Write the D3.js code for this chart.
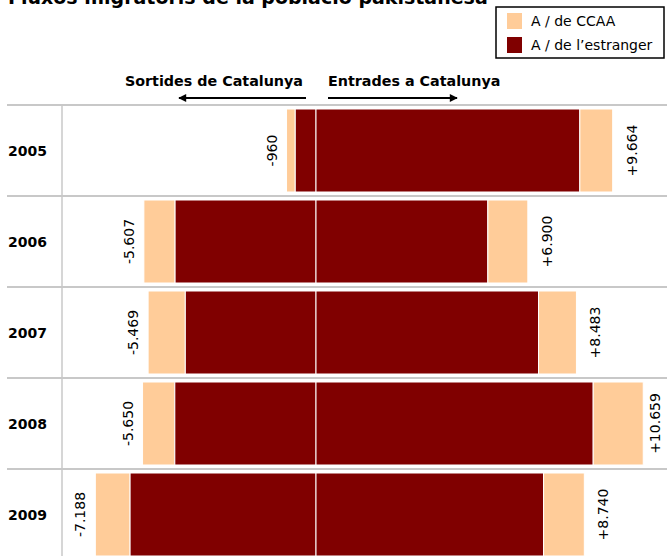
<!DOCTYPE html>
<html><head><meta charset="utf-8">
<script src="https://cdn.jsdelivr.net/npm/d3@7/dist/d3.min.js"></script>
<style>body{margin:0;background:#fff}svg{display:block}text{font-family:"DejaVu Sans",Verdana,sans-serif}</style>
</head><body><svg id="c" width="667" height="556"></svg>
<script>
const years = ["2005","2006","2007","2008","2009"];
const outCCAA = [284, 1017, 1212, 1051, 1132];
const outForeign = [676, 4590, 4257, 4599, 6056];
const inForeign = [8594, 5598, 7248, 9029, 7413];
const inCCAA = [1070, 1302, 1235, 1630, 1327];
const seriesNames = ["A / de CCAA", "A / de l\u2019estranger"];
const colors = ["#ffcc99", "#800000"];
const title = "Fluxos migratoris de la població pakistanesa";
const headLeft = "Sortides de Catalunya", headRight = "Entrades a Catalunya";

const svg = d3.select("#c");
const loc = d3.formatLocale({decimal: ",", thousands: ".", grouping: [3], currency: ["", "€"]});
const fmt = loc.format(",d");

const x = d3.scaleLinear().domain([-5000, 5000]).range([162.5, 469.5]);
const y = d3.scaleBand().domain(years).range([105, 560]).paddingInner(0).paddingOuter(0);
const inset = 4;

// title (partially clipped at top)
svg.append("text").attr("x", 8).attr("y", 4).attr("font-weight", "bold").attr("font-size", 19).text(title);

// legend
const lg = svg.append("g");
lg.append("rect").attr("x", 496).attr("y", 7).attr("width", 168).attr("height", 51).attr("fill", "#fff").attr("stroke", "#000").attr("stroke-width", 1.5);
seriesNames.forEach((n, i) => {
  lg.append("rect").attr("x", 507).attr("y", 13 + i * 24).attr("width", 15).attr("height", 16).attr("fill", colors[i]);
  lg.append("text").attr("x", 531).attr("y", 26 + i * 24).attr("font-size", 14).text(n);
});

// headers with arrows
svg.append("defs").append("marker").attr("id", "ah").attr("viewBox", "0 0 10 10").attr("refX", 9).attr("refY", 5)
  .attr("markerWidth", 5).attr("markerHeight", 4).attr("markerUnits", "strokeWidth").attr("orient", "auto")
  .append("path").attr("d", "M0,0 L10,5 L0,10 Z").attr("fill", "#000");
svg.append("text").attr("x", 303).attr("y", 86).attr("text-anchor", "end").attr("font-weight", "bold").attr("font-size", 14.3).text(headLeft);
svg.append("text").attr("x", 328).attr("y", 86).attr("text-anchor", "start").attr("font-weight", "bold").attr("font-size", 14.3).text(headRight);
svg.append("line").attr("x1", 306).attr("x2", 179).attr("y1", 98).attr("y2", 98).attr("stroke", "#000").attr("stroke-width", 2).attr("marker-end", "url(#ah)");
svg.append("line").attr("x1", 328).attr("x2", 457).attr("y1", 98).attr("y2", 98).attr("stroke", "#000").attr("stroke-width", 2).attr("marker-end", "url(#ah)");

// grid
years.forEach(yr => {
  svg.append("line").attr("x1", 7).attr("x2", 667).attr("y1", y(yr)).attr("y2", y(yr)).attr("stroke", "#c8c8c8").attr("stroke-width", 2);
});
svg.append("line").attr("x1", 62).attr("x2", 62).attr("y1", 106).attr("y2", 556).attr("stroke", "#c8c8c8").attr("stroke-width", 1.5);

// bars
const rows = years.map((yr, i) => ({yr, oc: outCCAA[i], of: outForeign[i], inf: inForeign[i], ic: inCCAA[i]}));
const g = svg.append("g");
rows.forEach(d => {
  const y0 = y(d.yr) + inset, h = y.bandwidth() - inset * 2;
  const segs = [
    [-(d.oc + d.of), -d.of, colors[0]],
    [-d.of, 0, colors[1]],
    [0, d.inf, colors[1]],
    [d.inf, d.inf + d.ic, colors[0]]
  ];
  segs.forEach(s => {
    g.append("rect").attr("x", x(s[0])).attr("width", x(s[1]) - x(s[0])).attr("y", y0).attr("height", h)
      .attr("fill", s[2]).attr("stroke", "#fff").attr("stroke-width", 1);
  });
  const cy = y(d.yr) + y.bandwidth() / 2;
  const lx = x(-(d.oc + d.of)) - 10;
  g.append("text").attr("transform", `translate(${lx},${cy}) rotate(-90)`).attr("text-anchor", "middle")
    .attr("font-size", 14).text("-" + fmt(d.oc + d.of));
  const rx = Math.min(x(d.inf + d.ic) + 24, 660);
  g.append("text").attr("transform", `translate(${rx},${cy}) rotate(-90)`).attr("text-anchor", "middle")
    .attr("font-size", 14).text("+" + fmt(d.inf + d.ic));
  svg.append("text").attr("x", 8).attr("y", cy + 5).attr("font-weight", "bold").attr("font-size", 14).text(d.yr);
});
</script></body></html>
